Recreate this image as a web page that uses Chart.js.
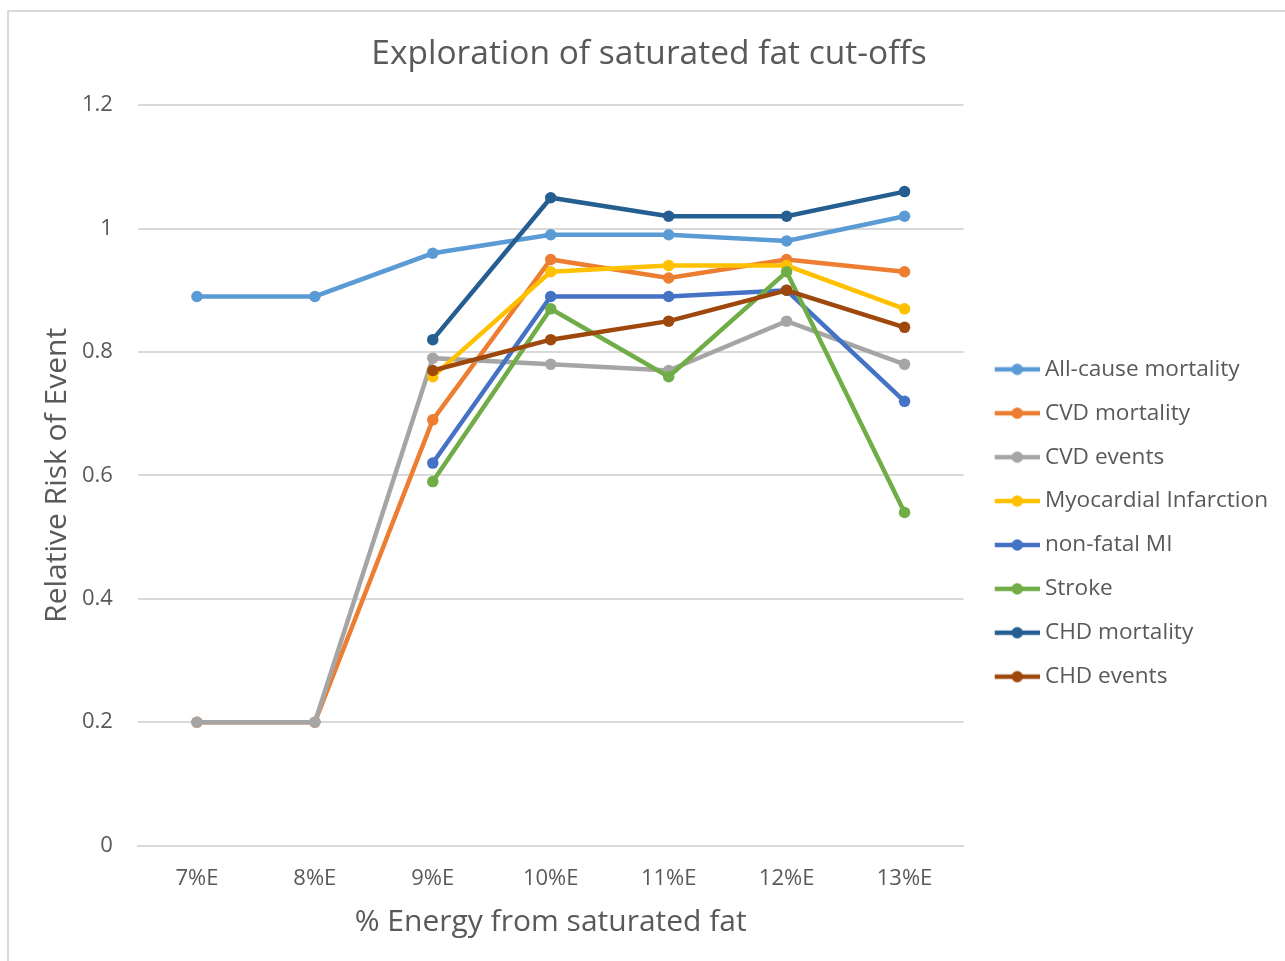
<!DOCTYPE html>
<html><head><meta charset="utf-8">
<script src="https://cdn.jsdelivr.net/npm/chart.js@4.4.0/dist/chart.umd.min.js"></script>
<style>html,body{margin:0;padding:0;background:#fff;overflow:hidden;} #wrap{position:absolute;left:0;top:0;width:1285px;height:961px;}</style>
</head><body><div id="wrap"><canvas id="c"></canvas></div>
<script>
const categories = ['7%E','8%E','9%E','10%E','11%E','12%E','13%E'];
const seriesNames = ['All-cause mortality','CVD mortality','CVD events','Myocardial Infarction','non-fatal MI','Stroke','CHD mortality','CHD events'];
const allCauseMortality = [0.89,0.89,0.96,0.99,0.99,0.98,1.02];
const cvdMortality      = [0.20,0.20,0.69,0.95,0.92,0.95,0.93];
const cvdEvents         = [0.20,0.20,0.79,0.78,0.77,0.85,0.78];
const myocardialInf     = [null,null,0.76,0.93,0.94,0.94,0.87];
const nonFatalMI        = [null,null,0.62,0.89,0.89,0.90,0.72];
const stroke            = [null,null,0.59,0.87,0.76,0.93,0.54];
const chdMortality      = [null,null,0.82,1.05,1.02,1.02,1.06];
const chdEvents         = [null,null,0.77,0.82,0.85,0.90,0.84];
const yTicks = [0,0.2,0.4,0.6,0.8,1,1.2];

const seriesValues = [allCauseMortality,cvdMortality,cvdEvents,myocardialInf,nonFatalMI,stroke,chdMortality,chdEvents];
const colors = ['#5B9BD5','#ED7D31','#A5A5A5','#FFC000','#4472C4','#70AD47','#255E91','#9E480E'];
const FONT = "'Open Sans', sans-serif";
const TXT = '#595959';

function legendIcon(color){
  const c=document.createElement('canvas'); c.width=61; c.height=14;
  const g=c.getContext('2d');
  g.strokeStyle=color; g.lineWidth=4.5; g.beginPath(); g.moveTo(16,7); g.lineTo(61,7); g.stroke();
  g.fillStyle=color; g.beginPath(); g.arc(38.5,7,5.75,0,Math.PI*2); g.fill();
  return c;
}
const icons = colors.map(legendIcon);

const frame = {
  id:'frame',
  beforeDraw(chart){
    const g=chart.ctx; g.save();
    g.fillStyle='#fff'; g.fillRect(0,0,chart.width,chart.height);
    g.strokeStyle='#d9d9d9'; g.lineWidth=2; g.strokeRect(8,11,3000,3000);
    g.restore();
  }
};

const n = seriesNames.length;
new Chart(document.getElementById('c'), {
  type:'line',
  data:{
    labels:categories,
    datasets: seriesNames.map((name,i)=>({
      label:name, data:seriesValues[i],
      borderColor:colors[i], backgroundColor:colors[i],
      pointBackgroundColor:colors[i], pointBorderColor:colors[i],
      borderWidth:4.5, pointRadius:5.75, pointBorderWidth:0, pointHoverRadius:5.75,
      tension:0, spanGaps:false, order:n-i
    }))
  },
  options:{
    responsive:true, maintainAspectRatio:false, animation:false,
    layout:{padding:{left:20,right:7,top:10,bottom:21}},
    plugins:{
      title:{display:true,text:'Exploration of saturated fat cut-offs',color:TXT,
        font:{family:FONT,size:33.5,weight:'normal'},padding:{top:24,bottom:31}},
      legend:{position:'right',align:'center',
        title:{display:true,text:' ',font:{family:FONT,size:10},padding:{top:42,bottom:42}},
        labels:{usePointStyle:true,pointStyleWidth:48.8,padding:21.3,color:TXT,
          font:{family:FONT,size:22.6},
          generateLabels:(chart)=>chart.data.datasets.map((ds,i)=>({
            text:ds.label,pointStyle:icons[i],fillStyle:ds.borderColor,strokeStyle:ds.borderColor,
            lineWidth:0,hidden:false,datasetIndex:i,fontColor:TXT}))}},
      tooltip:{enabled:false}
    },
    scales:{
      x:{offset:true,
        grid:{display:true,drawOnChartArea:false,drawTicks:true,tickLength:20,tickColor:'rgba(0,0,0,0)',color:'rgba(0,0,0,0)'},
        border:{display:true,color:'#d9d9d9',width:2},
        ticks:{color:TXT,font:{family:FONT,size:22},padding:0},
        title:{display:true,text:'% Energy from saturated fat',color:TXT,font:{family:FONT,size:30},padding:{top:12,bottom:0}}},
      y:{min:0,max:1.2,
        afterBuildTicks:(axis)=>{axis.ticks=yTicks.map(v=>({value:v}));},
        grid:{color:'#d9d9d9',lineWidth:2,drawTicks:true,tickLength:25,tickColor:'rgba(0,0,0,0)'},
        border:{display:false},
        ticks:{color:TXT,font:{family:FONT,size:22},padding:0,callback:(v)=>String(v)},
        title:{display:true,text:'Relative Risk of Event',color:TXT,font:{family:FONT,size:30},padding:{top:19,bottom:7}}}
    }
  },
  plugins:[frame]
});
</script></body></html>
